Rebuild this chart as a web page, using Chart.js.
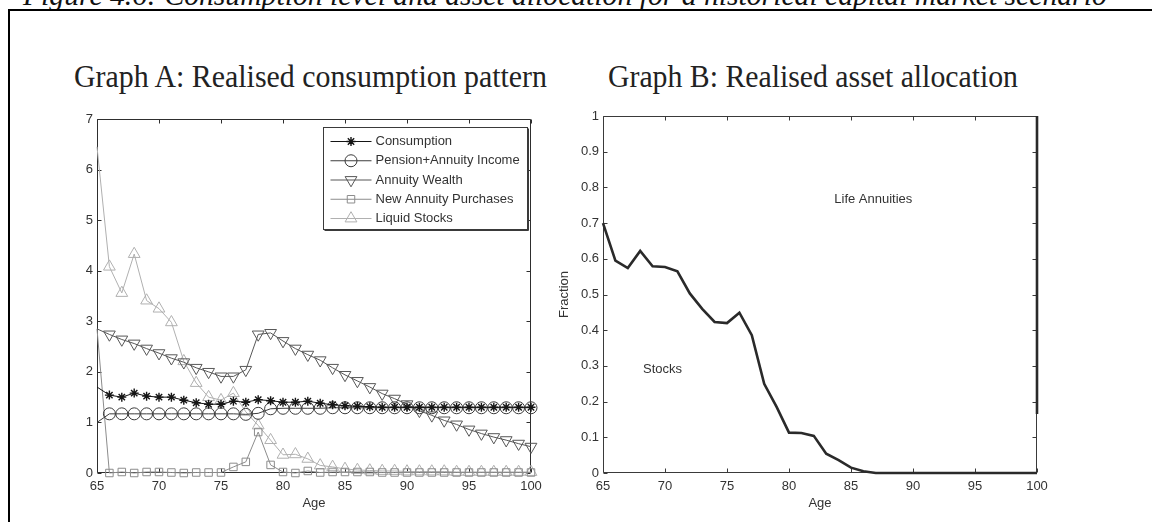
<!DOCTYPE html>
<html>
<head>
<meta charset="utf-8">
<script src="https://cdn.jsdelivr.net/npm/chart.js@4.4.1/dist/chart.umd.min.js"></script>
<style>
  html, body { margin: 0; padding: 0; background: #fff; width: 1152px; height: 522px; overflow: hidden; position: relative; }
  #caption { position: absolute; left: 23px; white-space: nowrap; font-family: "Liberation Serif", "DejaVu Serif", serif; font-style: italic; color: #111; line-height: 1; }
  .rule { position: absolute; background: #000; }
  .gtitle { position: absolute; white-space: nowrap; font-family: "Liberation Serif", "DejaVu Serif", serif; color: #222; line-height: 1; transform-origin: 0 0; }
  canvas { position: absolute; }
</style>
</head>
<body>
<div id="caption">Figure 4.6: Consumption level and asset allocation for a historical capital market scenario</div>
<div class="rule" style="left:8px;top:9px;width:1144px;height:2px"></div>
<div class="rule" style="left:8px;top:9px;width:2px;height:513px"></div>
<div class="gtitle" id="titleA">Graph A: Realised consumption pattern</div>
<div class="gtitle" id="titleB">Graph B: Realised asset allocation</div>
<canvas id="chartA" width="530" height="422" style="left:20px;top:100px"></canvas>
<canvas id="chartB" width="540" height="422" style="left:540px;top:100px"></canvas>
<script>
// ---- data ----
const ages = [65, 66, 67, 68, 69, 70, 71, 72, 73, 74, 75, 76, 77, 78, 79, 80, 81, 82,
              83, 84, 85, 86, 87, 88, 89, 90, 91, 92, 93, 94, 95, 96, 97, 98, 99, 100];

const consumption = [1.70, 1.54, 1.50, 1.58, 1.52, 1.50, 1.50, 1.44, 1.39, 1.36, 1.36, 1.42,
                     1.40, 1.45, 1.43, 1.40, 1.40, 1.42, 1.38, 1.35, 1.33, 1.32, 1.31, 1.30,
                     1.30, 1.30, 1.30, 1.30, 1.30, 1.30, 1.30, 1.30, 1.30, 1.30, 1.30, 1.30];

const pensionIncome = [1.00, 1.17, 1.17, 1.17, 1.17, 1.17, 1.17, 1.17, 1.17, 1.17, 1.17, 1.17,
                       1.16, 1.18, 1.27, 1.28, 1.28, 1.28, 1.28, 1.29, 1.29, 1.29, 1.29, 1.29,
                       1.29, 1.29, 1.29, 1.29, 1.29, 1.29, 1.29, 1.29, 1.29, 1.29, 1.29, 1.29];

const annuityWealth = [2.85, 2.74, 2.64, 2.56, 2.46, 2.37, 2.27, 2.19, 2.08, 2.00, 1.91, 1.91,
                       2.04, 2.74, 2.77, 2.61, 2.46, 2.34, 2.23, 2.08, 1.94, 1.82, 1.70, 1.57,
                       1.47, 1.36, 1.23, 1.14, 1.04, 0.96, 0.86, 0.78, 0.71, 0.65, 0.58, 0.52];

const newAnnuityPurchases = [2.85, 0.00, 0.02, 0.00, 0.02, 0.02, 0.01, 0.00, 0.01, 0.01, 0.01, 0.12,
                             0.22, 0.81, 0.16, 0.02, 0.00, 0.04, 0.01, 0.02, 0.02, 0.02, 0.02, 0.01,
                             0.01, 0.01, 0.01, 0.01, 0.01, 0.01, 0.01, 0.01, 0.01, 0.01, 0.01, 0.01];

const liquidStocks = [6.45, 4.08, 3.56, 4.33, 3.41, 3.25, 2.98, 2.21, 1.78, 1.50, 1.44, 1.58,
                      1.21, 0.94, 0.65, 0.36, 0.37, 0.28, 0.15, 0.12, 0.08, 0.06, 0.05, 0.04,
                      0.04, 0.03, 0.03, 0.03, 0.03, 0.02, 0.02, 0.02, 0.02, 0.02, 0.02, 0.02];

const stockFraction = [0.700, 0.595, 0.574, 0.622, 0.579, 0.577, 0.565, 0.503, 0.460, 0.423, 0.420, 0.449,
                       0.386, 0.250, 0.185, 0.113, 0.112, 0.104, 0.054, 0.036, 0.015, 0.005, 0.000, 0.000,
                       0.000, 0.000, 0.000, 0.000, 0.000, 0.000, 0.000, 0.000, 0.000, 0.000, 0.000, 0.000];

// right-hand edge of the life-annuity region at the final age
const annuityEdgeAge = [100, 100];
const annuityEdgeFraction = [0.165, 1];

const xTicksA = [65, 70, 75, 80, 85, 90, 95, 100];

// ---- text placement ----
function placeText(id, left, baseline, size, width, scaleY) {
  const el = document.getElementById(id);
  el.style.fontSize = size + 'px';
  const w = el.getBoundingClientRect().width;
  el.style.left = left + 'px';
  el.style.top = (baseline - 0.8375 * size * scaleY) + 'px';
  el.style.transform = 'scale(' + (width / w) + ',' + scaleY + ')';
}
(function () {
  const cap = document.getElementById('caption');
  cap.style.fontSize = '24px';
  const w = cap.getBoundingClientRect().width;
  const size = 24 * 1084 / w;
  cap.style.fontSize = size + 'px';
  cap.style.top = (5.5 - 0.8375 * size) + 'px';
})();
placeText('titleA', 73.5, 88, 28, 473, 1.15);
placeText('titleB', 608, 88, 28, 410, 1.15);

// ---- plugins ----
const sansFont = '"Liberation Sans", Arial, Helvetica, sans-serif';
const tickFont = { family: sansFont, size: 13 };
const textColor = '#333';

// box round the plot area with inward tick marks on all four sides
const axesBox = {
  id: 'axesBox',
  beforeDatasetsDraw(chart, args, o) {
    const { ctx, chartArea: a, scales: { x, y } } = chart;
    const L = o.tick;
    const l = Math.round(a.left) + 0.5, r = Math.round(a.right) - 0.5;
    const t = Math.round(a.top) + 0.5, b = Math.round(a.bottom) - 0.5;
    ctx.save();
    ctx.strokeStyle = o.color;
    ctx.lineWidth = 1;
    ctx.beginPath();
    ctx.rect(l, t, r - l, b - t);
    x.ticks.forEach(tk => {
      const p = Math.round(x.getPixelForValue(tk.value)) + 0.5;
      ctx.moveTo(p, b); ctx.lineTo(p, b - L);
      ctx.moveTo(p, t); ctx.lineTo(p, t + L);
    });
    y.ticks.forEach(tk => {
      const p = Math.round(y.getPixelForValue(tk.value)) + 0.5;
      ctx.moveTo(l, p); ctx.lineTo(l + L, p);
      ctx.moveTo(r, p); ctx.lineTo(r - L, p);
    });
    ctx.stroke();
    ctx.restore();
  }
};

function drawMarker(ctx, style, r, rot, bw, x, y) {
  if (Chart.helpers && Chart.helpers.drawPoint) {
    Chart.helpers.drawPoint(ctx, { pointStyle: style, radius: r, rotation: rot, borderWidth: bw }, x, y);
  } else {
    ctx.beginPath(); ctx.arc(x, y, r, 0, Math.PI * 2); ctx.stroke();
  }
}

// legend box placed inside the plot area (upper right)
const insideLegend = {
  id: 'insideLegend',
  afterDraw(chart, args, o) {
    const { ctx, chartArea: a } = chart;
    const bx = Math.round(a.left + o.left) + 0.5, by = Math.round(a.top + o.top) + 0.5;
    ctx.save();
    ctx.fillStyle = '#fff';
    ctx.fillRect(bx, by, o.width, o.height);
    ctx.strokeStyle = '#3a3a3a';
    ctx.lineWidth = 1;
    ctx.strokeRect(bx, by, o.width, o.height);
    ctx.beginPath();
    ctx.moveTo(bx + 1, by + o.height + 1); ctx.lineTo(bx + o.width + 1, by + o.height + 1); ctx.lineTo(bx + o.width + 1, by + 1);
    ctx.stroke();
    ctx.font = '13px ' + sansFont;
    ctx.textBaseline = 'middle';
    chart.data.datasets.forEach((ds, i) => {
      const cy = by + o.firstRow + i * o.rowStep;
      ctx.strokeStyle = ds.borderColor;
      ctx.lineWidth = 1;
      ctx.beginPath();
      ctx.moveTo(bx + o.lineFrom, cy); ctx.lineTo(bx + o.lineTo, cy);
      ctx.stroke();
      ctx.fillStyle = 'rgba(0,0,0,0)';
      ctx.strokeStyle = ds.pointBorderColor;
      ctx.lineWidth = ds.pointBorderWidth;
      drawMarker(ctx, ds.pointStyle, ds.markerSize, ds.pointRotation, ds.pointBorderWidth, bx + (o.lineFrom + o.lineTo) / 2, cy);
      ctx.fillStyle = textColor;
      ctx.fillText(ds.label, bx + o.textX, cy);
    });
    ctx.restore();
  }
};

// region names written inside the allocation plot
const regionLabels = {
  id: 'regionLabels',
  afterDatasetsDraw(chart, args, o) {
    const { ctx, scales: { x, y } } = chart;
    ctx.save();
    ctx.font = '13px ' + sansFont;
    ctx.fillStyle = textColor;
    ctx.textAlign = 'center';
    ctx.textBaseline = 'middle';
    o.items.forEach(it => ctx.fillText(it.text, x.getPixelForValue(it.age), y.getPixelForValue(it.value)));
    ctx.restore();
  }
};

function series(label, values, color, style, radius, rotation, width) {
  return {
    label,
    data: ages.map((a, i) => ({ x: a, y: values[i] })),
    borderColor: color,
    borderWidth: 1,
    pointStyle: style,
    markerSize: radius,
    pointRadius: c => (c.dataIndex === 0 ? 0 : radius),
    pointHoverRadius: 0,
    pointRotation: rotation,
    pointBorderColor: color,
    pointBackgroundColor: 'rgba(0,0,0,0)',
    pointBorderWidth: width,
    tension: 0,
    fill: false,
    clip: false
  };
}

const commonPlugins = { legend: { display: false }, tooltip: { enabled: false } };

// ---- Graph A ----
new Chart(document.getElementById('chartA'), {
  type: 'line',
  data: {
    datasets: [
      series('Consumption', consumption, '#151515', 'star', 4.5, 0, 1.4),
      series('Pension+Annuity Income', pensionIncome, '#3c3c3c', 'circle', 6, 0, 1),
      series('Annuity Wealth', annuityWealth, '#575757', 'triangle', 6.8, 180, 1),
      series('New Annuity Purchases', newAnnuityPurchases, '#8c8c8c', 'rect', 5.3, 0, 1),
      series('Liquid Stocks', liquidStocks, '#b0b0b0', 'triangle', 6.8, 0, 1)
    ]
  },
  options: {
    responsive: false, animation: false, devicePixelRatio: 1,
    layout: { padding: { top: 19, right: 19, left: 0, bottom: 0 } },
    plugins: Object.assign({}, commonPlugins, {
      axesBox: { color: '#2e2e2e', tick: 4 },
      insideLegend: { left: 226, top: 8, width: 204, height: 102, firstRow: 14, rowStep: 19.25, lineFrom: 7, lineTo: 48, textX: 52 }
    }),
    scales: {
      x: {
        type: 'linear', min: 65, max: 100,
        afterFit(s) { s.height = 49; },
        afterBuildTicks(s) { s.ticks = xTicksA.map(v => ({ value: v })); },
        grid: { display: false, drawTicks: false }, border: { display: false },
        ticks: { font: tickFont, color: textColor, padding: 6, maxRotation: 0, autoSkip: false },
        title: { display: true, text: 'Age', font: tickFont, color: textColor, padding: { top: 0, bottom: 11 } }
      },
      y: {
        min: 0, max: 7,
        afterFit(s) { s.width = 77; },
        grid: { display: false, drawTicks: false }, border: { display: false },
        ticks: { stepSize: 1, font: tickFont, color: textColor, padding: 4 }
      }
    }
  },
  plugins: [axesBox, insideLegend]
});

// ---- Graph B ----
new Chart(document.getElementById('chartB'), {
  type: 'line',
  data: {
    datasets: [
      {
        label: 'Stocks',
        data: ages.map((a, i) => ({ x: a, y: stockFraction[i] })),
        borderColor: '#2a2a2a', borderWidth: 2.6, pointRadius: 0, tension: 0, fill: false, clip: false
      },
      {
        label: 'Life Annuities',
        data: annuityEdgeAge.map((a, i) => ({ x: a, y: annuityEdgeFraction[i] })),
        borderColor: '#2a2a2a', borderWidth: 2.6, pointRadius: 0, tension: 0, fill: false, clip: false
      }
    ]
  },
  options: {
    responsive: false, animation: false, devicePixelRatio: 1,
    layout: { padding: { top: 16, right: 43, left: 0, bottom: 0 } },
    plugins: Object.assign({}, commonPlugins, {
      axesBox: { color: '#3a3a3a', tick: 4 },
      regionLabels: { items: [ { text: 'Life Annuities', age: 86.8, value: 0.765 }, { text: 'Stocks', age: 69.8, value: 0.29 } ] }
    }),
    scales: {
      x: {
        type: 'linear', min: 65, max: 100,
        afterFit(s) { s.height = 49; },
        afterBuildTicks(s) { s.ticks = xTicksA.map(v => ({ value: v })); },
        grid: { display: false, drawTicks: false }, border: { display: false },
        ticks: { font: tickFont, color: textColor, padding: 6, maxRotation: 0, autoSkip: false },
        title: { display: true, text: 'Age', font: tickFont, color: textColor, padding: { top: 0, bottom: 11 } }
      },
      y: {
        min: 0, max: 1,
        afterFit(s) { s.width = 63; },
        grid: { display: false, drawTicks: false }, border: { display: false },
        ticks: { stepSize: 0.1, font: tickFont, color: textColor, padding: 4, callback: v => String(Number(v.toFixed(1))) },
        title: { display: true, text: 'Fraction', font: tickFont, color: textColor, padding: { top: 17, bottom: 0 } }
      }
    }
  },
  plugins: [axesBox, regionLabels]
});
</script>
</body>
</html>
